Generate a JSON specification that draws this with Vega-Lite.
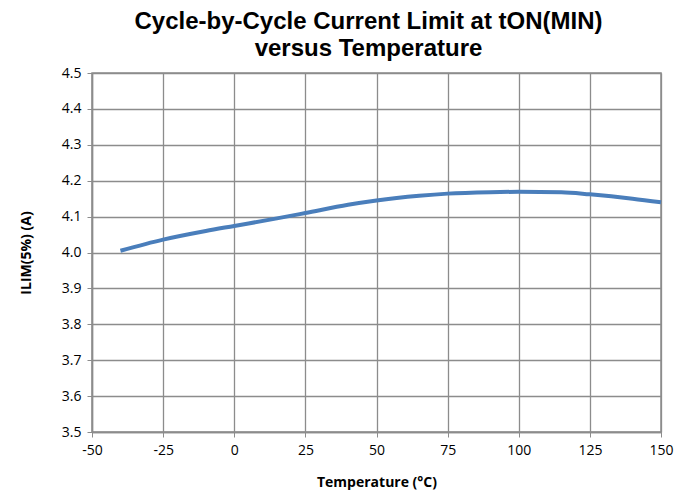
{
  "$schema": "https://vega.github.io/schema/vega-lite/v6.json",
  "autosize": "none",
  "width": 569,
  "height": 359,
  "padding": {"left": 92, "top": 73, "right": 17, "bottom": 63},
  "background": "white",
  "title": {
    "text": ["Cycle-by-Cycle Current Limit at tON(MIN)", "versus Temperature"],
    "font": "Liberation Sans",
    "fontSize": 24,
    "fontWeight": "bold",
    "color": "#000000",
    "anchor": "middle",
    "offset": 5,
    "lineHeight": 27,
    "dx": -8
  },
  "data": {
    "values": [
      {"t": -40, "i": 4.005},
      {"t": -25, "i": 4.036},
      {"t": -10, "i": 4.060},
      {"t": 0, "i": 4.074},
      {"t": 15, "i": 4.095},
      {"t": 25, "i": 4.110},
      {"t": 40, "i": 4.133},
      {"t": 50, "i": 4.145},
      {"t": 65, "i": 4.158},
      {"t": 75, "i": 4.164},
      {"t": 90, "i": 4.168},
      {"t": 100, "i": 4.169},
      {"t": 115, "i": 4.168},
      {"t": 125, "i": 4.162},
      {"t": 140, "i": 4.150},
      {"t": 150, "i": 4.140}
    ]
  },
  "mark": {"type": "line", "color": "#4a7ebb", "strokeWidth": 4, "interpolate": "monotone"},
  "encoding": {
    "x": {
      "field": "t",
      "type": "quantitative",
      "scale": {"domain": [-50, 150], "nice": false},
      "axis": {
        "values": [-50, -25, 0, 25, 50, 75, 100, 125, 150],
        "labelExpr": "'' + datum.value",
        "title": "Temperature (°C)",
        "titleFont": "Open Sans",
        "titleFontSize": 14,
        "titleFontWeight": "bold",
        "titleColor": "#000000",
        "titlePadding": 18,
        "labelFont": "Open Sans",
        "labelFontSize": 14,
        "labelColor": "#000000",
        "labelPadding": 6,
        "labelFlush": false,
        "grid": true,
        "gridColor": "#8c8c8c",
        "gridWidth": 1.3,
        "domainColor": "#8c8c8c",
        "domainWidth": 1.5,
        "tickColor": "#8c8c8c",
        "tickSize": 5
      }
    },
    "y": {
      "field": "i",
      "type": "quantitative",
      "scale": {"domain": [3.5, 4.5], "nice": false, "zero": false},
      "axis": {
        "values": [3.5, 3.6, 3.7, 3.8, 3.9, 4.0, 4.1, 4.2, 4.3, 4.4, 4.5],
        "format": ".1f",
        "title": "ILIM(5%) (A)",
        "titleFont": "Open Sans",
        "titleFontSize": 14,
        "titleFontWeight": "bold",
        "titleColor": "#000000",
        "titlePadding": 28,
        "labelFont": "Open Sans",
        "labelFontSize": 14,
        "labelColor": "#000000",
        "labelPadding": 6,
        "labelFlush": false,
        "grid": true,
        "gridColor": "#8c8c8c",
        "gridWidth": 1.3,
        "domainColor": "#8c8c8c",
        "domainWidth": 1.5,
        "tickColor": "#8c8c8c",
        "tickSize": 5
      }
    }
  },
  "config": {"view": {"stroke": "#8c8c8c", "strokeWidth": 1.5}}
}
